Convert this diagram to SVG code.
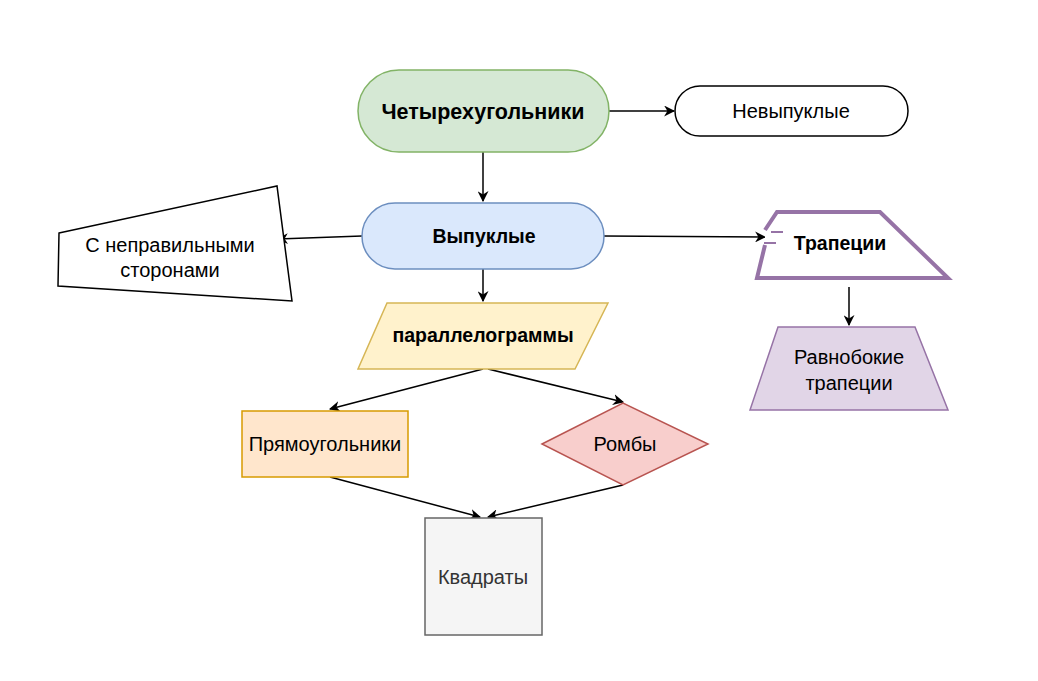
<svg xmlns="http://www.w3.org/2000/svg" width="1038" height="681" viewBox="0 0 1038 681">
<defs>
<marker id="arr" viewBox="0 0 10 10" refX="9" refY="5" markerWidth="11" markerHeight="11" markerUnits="userSpaceOnUse" orient="auto">
<path d="M0,0 L10,5 L0,10 L3,5 Z" fill="#000"/>
</marker>
<style>
text{font-family:"Liberation Sans",Arial,sans-serif;font-size:20px;text-anchor:middle;dominant-baseline:central;fill:#000}
.b{font-weight:bold;font-size:19.5px}
.c{fill:none;stroke:#000;stroke-width:1.5;marker-end:url(#arr)}
</style>
</defs>
<rect width="1038" height="681" fill="#fff"/>
<g id="connectors">
<path class="c" d="M609,111 L674,111"/>
<path class="c" d="M483,152 L483,201"/>
<path class="c" d="M362,236 L278,239"/>
<path class="c" d="M604,236 L765,237"/>
<path class="c" d="M849,287 L849,325"/>
<path class="c" d="M483,269 L483,301"/>
<path class="c" d="M483,369 L330,409"/>
<path class="c" d="M488,369 L623,402"/>
<path class="c" d="M330,477 L480,517"/>
<path class="c" d="M623,485 L488,517"/>
</g>
<g id="n1">
<rect x="358" y="70" width="251" height="82" rx="41" fill="#d5e8d4" stroke="#82b366" stroke-width="1.5"/>
<text class="b" x="483" y="112" style="font-size:21.5px">Четырехугольники</text>
</g>
<g id="n2">
<rect x="675" y="86" width="233" height="50" rx="25" fill="#fff" stroke="#000" stroke-width="1.5"/>
<text x="791" y="111">Невыпуклые</text>
</g>
<g id="n3">
<rect x="362" y="203" width="242" height="66" rx="33" fill="#dae8fc" stroke="#6c8ebf" stroke-width="1.5"/>
<text class="b" x="484" y="236">Выпуклые</text>
</g>
<g id="n4">
<polygon points="59,233 277,186 292,301 58,286" fill="#fff" stroke="#000" stroke-width="1.5"/>
<text x="170" y="245">С неправильными</text>
<text x="170" y="270">сторонами</text>
</g>
<g id="n5">
<path d="M765,230 L777,212 L880,212 L948,278 L757,278 L765,245" fill="#fff" stroke="#9673a6" stroke-width="4" stroke-linejoin="miter"/>
<path d="M771,232 L783,232 M764,243 L776,243" fill="none" stroke="#9673a6" stroke-width="2"/>
<text class="b" x="840" y="243">Трапеции</text>
</g>
<g id="n6">
<polygon points="778,327 915,327 948,410 750,410" fill="#e1d5e7" stroke="#9673a6" stroke-width="1.5"/>
<text x="849" y="357">Равнобокие</text>
<text x="849" y="383">трапеции</text>
</g>
<g id="n7">
<polygon points="387,303 608,303 575,369 358,369" fill="#fff2cc" stroke="#d6b656" stroke-width="1.5"/>
<text class="b" x="483" y="335">параллелограммы</text>
</g>
<g id="n8">
<rect x="242" y="411" width="166" height="66" fill="#ffe6cc" stroke="#d79b00" stroke-width="1.5"/>
<text x="325" y="444">Прямоугольники</text>
</g>
<g id="n9">
<polygon points="542,444 623,403 708,444 623,485" fill="#f8cecc" stroke="#b85450" stroke-width="1.5"/>
<text x="625" y="444">Ромбы</text>
</g>
<g id="n10">
<rect x="425" y="518" width="117" height="117" fill="#f5f5f5" stroke="#666666" stroke-width="1.5"/>
<text x="483" y="577" style="fill:#333333">Квадраты</text>
</g>
</svg>
